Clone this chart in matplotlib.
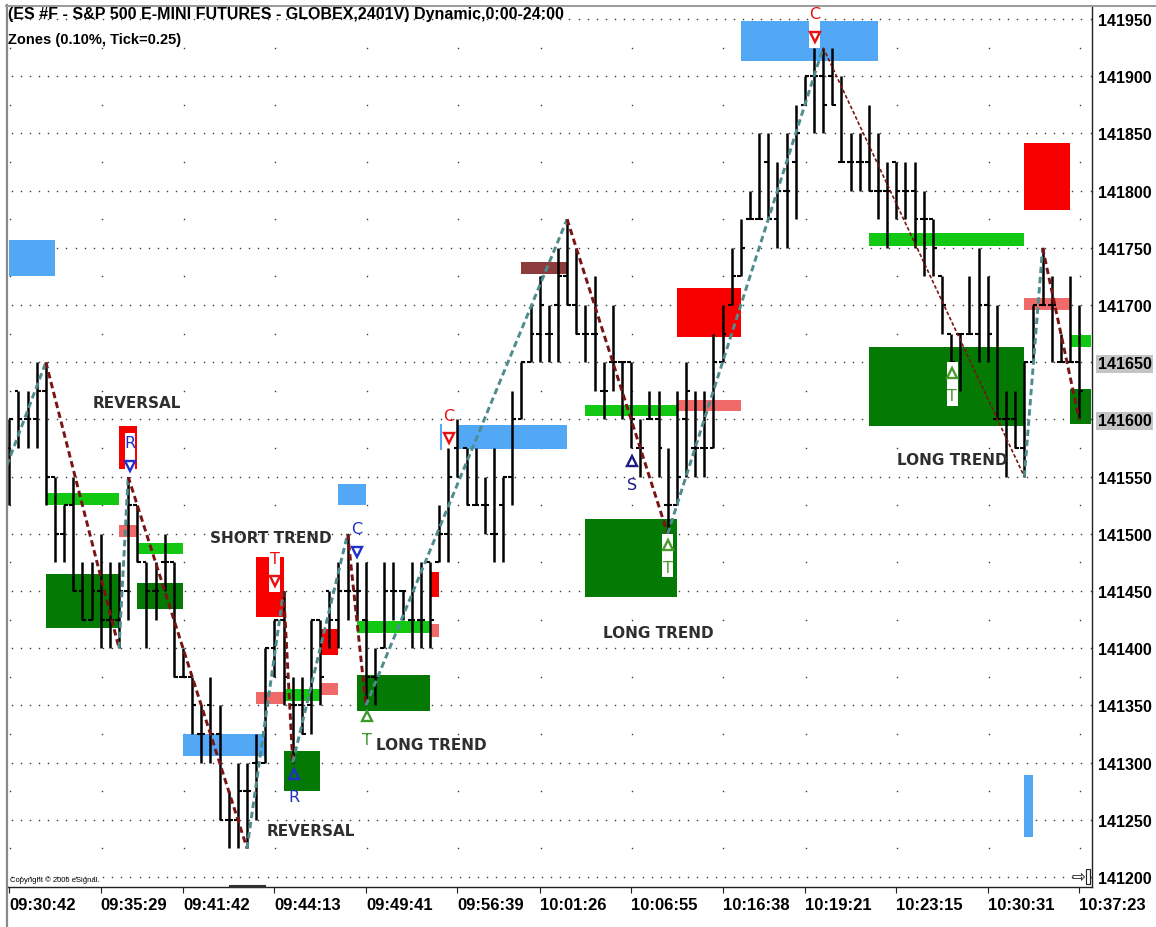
import matplotlib
matplotlib.use("Agg")
import matplotlib.pyplot as plt
from matplotlib.patches import Rectangle
from matplotlib.lines import Line2D
import numpy as np

# ---------------- data ----------------
highs = [141600, 141625, 141625, 141650, 141650, 141550, 141525, 141550, 141475, 141475,
         141500, 141475, 141475, 141550, 141525, 141475, 141475, 141500, 141475, 141400,
         141375, 141350, 141375, 141350, 141275, 141300, 141300, 141325, 141400, 141425,
         141450, 141375, 141375, 141425, 141425, 141450, 141475, 141500, 141475, 141475,
         141400, 141475, 141475, 141450, 141475, 141475, 141475, 141525, 141575, 141600,
         141575, 141575, 141550, 141575, 141550, 141625, 141650, 141700, 141725, 141700,
         141750, 141775, 141750, 141700, 141725, 141650, 141700, 141650, 141650, 141600,
         141625, 141625, 141575, 141625, 141650, 141625, 141625, 141675, 141700, 141750,
         141775, 141800, 141850, 141850, 141825, 141850, 141875, 141900, 141925, 141925,
         141925, 141900, 141850, 141850, 141875, 141850, 141825, 141825, 141825, 141825,
         141800, 141775, 141725, 141675, 141675, 141725, 141750, 141725, 141700, 141625,
         141625, 141650, 141700, 141750, 141725, 141675, 141725, 141700]
lows = [141525, 141575, 141575, 141575, 141525, 141475, 141475, 141450, 141425, 141425,
        141400, 141400, 141400, 141425, 141475, 141400, 141425, 141450, 141375, 141375,
        141325, 141300, 141300, 141250, 141225, 141225, 141225, 141250, 141300, 141375,
        141350, 141300, 141325, 141325, 141350, 141400, 141400, 141425, 141425, 141350,
        141350, 141400, 141425, 141425, 141400, 141400, 141400, 141475, 141475, 141550,
        141525, 141525, 141500, 141475, 141475, 141525, 141600, 141650, 141650, 141650,
        141650, 141700, 141675, 141650, 141625, 141600, 141625, 141600, 141575, 141550,
        141600, 141550, 141500, 141525, 141550, 141550, 141550, 141575, 141650, 141700,
        141725, 141775, 141775, 141775, 141750, 141750, 141775, 141875, 141850, 141850,
        141875, 141825, 141800, 141800, 141800, 141775, 141750, 141775, 141775, 141750,
        141725, 141725, 141675, 141650, 141625, 141675, 141650, 141650, 141600, 141550,
        141575, 141550, 141650, 141700, 141650, 141650, 141650, 141600]
opens = [141575, 141625, 141600, 141600, 141625, 141550, 141500, 141525, 141450, 141425,
         141450, 141425, 141425, 141450, 141525, 141475, 141450, 141475, 141475, 141375,
         141375, 141325, 141350, 141325, 141250, 141250, 141275, 141300, 141300, 141400,
         141425, 141350, 141350, 141350, 141425, 141450, 141425, 141450, 141450, 141425,
         141375, 141400, 141450, 141450, 141425, 141425, 141475, 141475, 141500, 141575,
         141575, 141525, 141525, 141500, 141525, 141550, 141600, 141650, 141675, 141675,
         141700, 141725, 141700, 141675, 141675, 141625, 141650, 141650, 141650, 141575,
         141600, 141600, 141525, 141525, 141600, 141575, 141575, 141575, 141650, 141700,
         141725, 141775, 141775, 141825, 141775, 141800, 141825, 141875, 141900, 141900,
         141900, 141825, 141825, 141825, 141825, 141800, 141800, 141825, 141800, 141800,
         141775, 141775, 141725, 141675, 141675, 141675, 141675, 141700, 141600, 141600,
         141600, 141575, 141650, 141700, 141700, 141650, 141650, 141650]
closes = [141600, 141600, 141600, 141625, 141550, 141500, 141525, 141450, 141425, 141450,
          141425, 141425, 141450, 141525, 141475, 141450, 141450, 141475, 141375, 141375,
          141350, 141325, 141325, 141250, 141250, 141275, 141275, 141300, 141400, 141425,
          141375, 141350, 141325, 141425, 141375, 141425, 141450, 141450, 141450, 141375,
          141375, 141450, 141450, 141450, 141425, 141425, 141425, 141500, 141550, 141550,
          141525, 141525, 141525, 141500, 141550, 141600, 141650, 141675, 141700, 141675,
          141725, 141700, 141675, 141675, 141675, 141625, 141650, 141650, 141600, 141575,
          141600, 141575, 141525, 141550, 141625, 141575, 141575, 141650, 141675, 141725,
          141750, 141775, 141775, 141775, 141800, 141800, 141850, 141900, 141900, 141875,
          141875, 141825, 141825, 141825, 141800, 141800, 141800, 141800, 141800, 141775,
          141775, 141750, 141700, 141650, 141675, 141675, 141700, 141675, 141600, 141600,
          141575, 141650, 141700, 141700, 141700, 141650, 141650, 141625]

# zones: bar-index start/end, price low/high, colour key
zone_x0 = [0.0, 80, 56, 73, 111, 94, 111, 116, 116, 94, 63, 73, 49, 12, 4, 12, 14, 4, 14,
           36, 63, 27, 46, 38, 46, 34, 34, 30, 27, 38, 19, 30, 111]
zone_x1 = [5, 95, 61, 80, 116, 111, 116, 118.3, 118.3, 111, 73, 80, 61, 14, 12, 14, 19, 12, 19,
           39, 73, 30, 47, 46, 47, 36, 36, 34, 30, 46, 28, 34, 112]
zone_lo = [141725, 141913, 141727, 141672, 141783, 141752, 141696, 141663, 141596, 141594,
           141603, 141607, 141574, 141557, 141525, 141497, 141482, 141418, 141434, 141525,
           141445, 141427, 141445, 141413, 141410, 141394, 141359, 141354, 141351, 141345,
           141306, 141275, 141235]
zone_hi = [141757, 141948, 141738, 141715, 141842, 141763, 141706, 141674, 141627, 141663,
           141613, 141617, 141595, 141594, 141536, 141508, 141492, 141465, 141457, 141544,
           141513, 141480, 141467, 141424, 141421, 141417, 141370, 141364, 141362, 141377,
           141325, 141310, 141289]
zone_kind = ["blue", "blue", "maroon", "red", "red", "lime", "salmon", "lime", "dark", "dark",
             "lime", "salmon", "blue", "red", "lime", "salmon", "lime", "dark", "dark", "blue",
             "dark", "red", "red", "lime", "salmon", "red", "salmon", "lime", "salmon", "dark",
             "blue", "dark", "blue"]

# zig-zag swing pivots
piv_x = [-0.25, 4, 12, 13, 26, 30, 31, 37, 39, 61, 72, 89, 111, 113, 117]
piv_p = [141560, 141650, 141400, 141550, 141225, 141450, 141300, 141500, 141350, 141775,
         141500, 141925, 141550, 141750, 141600]

# signal markers
sig_x = [13.2, 29.05, 38.0, 48.1, 88.1, 31.1, 39.1, 68.1, 72.0, 103.1]
sig_p = [141569, 141468, 141494, 141593, 141944, 141281, 141331, 141554, 141481, 141631]
sig_letter = ["R", "T", "C", "C", "C", "R", "T", "S", "T", "T"]
sig_dir = ["down", "down", "down", "down", "down", "up", "up", "up", "up", "up"]
sig_color = ["#1f2fd0", "#e81010", "#2030c8", "#e81010", "#e81010", "#2030c8", "#3c9a2c",
             "#1c1c80", "#4a9a2c", "#4a9a2c"]
sig_box = [True, True, False, False, True, False, False, False, True, True]

# annotation texts
note_text = ["REVERSAL", "SHORT TREND", "REVERSAL", "LONG TREND", "LONG TREND", "LONG TREND"]
note_x = [14.0, 28.6, 33.0, 46.1, 71.0, 103.1]
note_p = [141615, 141497, 141241, 141316, 141414, 141565]

price_ticks = list(range(141200, 141951, 50))
time_pos = [0, 10, 19, 29, 39, 49, 58, 68, 78, 87, 97, 107, 117]
time_labels = ["09:30:42", "09:35:29", "09:41:42", "09:44:13", "09:49:41", "09:56:39",
               "10:01:26", "10:06:55", "10:16:38", "10:19:21", "10:23:15", "10:30:31",
               "10:37:23"]

colors = {"blue": "#52a8f5", "red": "#f80000", "dark": "#047a04", "lime": "#12c812",
          "salmon": "#f06a6a", "maroon": "#8c3c3c"}

# ---------------- figure ----------------
W, H = 1156, 928
fig = plt.figure(figsize=(W / 100, H / 100), dpi=100)
fig.patch.set_facecolor("white")
ax = fig.add_axes([7 / W, 1 - 888 / H, 1085 / W, 881 / H])
ax.set_xlim(-0.25, 118.4)
ax.set_ylim(141191.3, 141961.4)
ax.set_facecolor("white")

# dotted grid
dot_x = np.arange(0, 119) + 0.25
for p in price_ticks:
    ax.plot(dot_x, [p] * len(dot_x), ls="none", marker="s", ms=1.0, mew=0,
            color="#3a3a3a", zorder=1)
for t in time_pos:
    for p in range(141225, 141951, 50):
        ax.plot([t + 0.1], [p], ls="none", marker="s", ms=1.0, mew=0,
                color="#3a3a3a", zorder=1)

# zones
for x0, x1, lo, hi, k in zip(zone_x0, zone_x1, zone_lo, zone_hi, zone_kind):
    ax.add_patch(Rectangle((x0, lo), x1 - x0, hi - lo, facecolor=colors[k],
                           edgecolor="none", zorder=2))
# thin bracket left of the C signal
ax.plot([47.2, 47.2], [141574, 141595], color="#52a8f5", lw=1.5, zorder=2)

# bars
idx = np.arange(len(highs))
ax.vlines(idx, lows, highs, colors="black", lw=1.8, zorder=3)
ax.hlines(opens, idx - 0.42, idx, colors="black", lw=1.5, zorder=3)
ax.hlines(closes, idx, idx + 0.42, colors="black", lw=1.5, zorder=3)

# zig-zag
for k in range(len(piv_x) - 1):
    down = piv_p[k + 1] < piv_p[k]
    col = "#7a1414" if down else "#4f8c8c"
    lw = 1.2 if k == 11 else 2.1
    ax.plot([piv_x[k], piv_x[k + 1]], [piv_p[k], piv_p[k + 1]], color=col, lw=lw,
            ls=(0, (2.2, 1.3)), zorder=4, dash_capstyle="butt")

# signal markers
half = 8.5
for x, p, l, d, c, b in zip(sig_x, sig_p, sig_letter, sig_dir, sig_color, sig_box):
    if b:
        ax.add_patch(Rectangle((x - 0.6, p - 19), 1.2, 38, facecolor="white",
                               edgecolor="none", zorder=5))
    if d == "down":
        ly, ty, mk = p + half + 2, p - half - 1, "v"
    else:
        ly, ty, mk = p - half - 2, p + half + 1, "^"
    ax.text(x, ly, l, ha="center", va="center", color=c, fontsize=11.5,
            family=["DejaVu Sans"], zorder=6)
    ax.plot([x], [ty], marker=mk, ms=7.5, mfc="white" if b else "none", mec=c,
            mew=1.7, ls="none", zorder=6)

for t, x, p in zip(note_text, note_x, note_p):
    ax.text(x, p, t, ha="center", va="center", fontsize=11, fontweight="bold",
            color="#2e2e2e", family=["DejaVu Sans"], zorder=6)

# axes styling
for s in ["top", "left"]:
    ax.spines[s].set_visible(False)
for s in ["right", "bottom"]:
    ax.spines[s].set_color("#202020")
    ax.spines[s].set_linewidth(1.0)

ax.yaxis.tick_right()
ax.set_yticks(price_ticks)
ax.set_yticklabels([str(p) for p in price_ticks], family="Liberation Sans",
                   fontweight="bold", fontsize=11.5)
ax.tick_params(axis="y", length=0, pad=4)
for lbl in ax.get_yticklabels():
    if lbl.get_text() in ("141650", "141600"):
        lbl.set_bbox(dict(facecolor="#c4c4c4", edgecolor="none", pad=1))

ax.set_xticks(time_pos)
ax.set_xticklabels(time_labels, family="Liberation Sans", fontweight="bold",
                   fontsize=12, ha="left")
ax.tick_params(axis="x", length=4, direction="out", pad=3, color="#202020")

# header texts
fig.text(8 / W, 1 - 14 / H, "(ES #F - S&P 500 E-MINI FUTURES - GLOBEX,2401V) Dynamic,0:00-24:00",
         ha="left", va="center", fontsize=11.5, fontweight="bold", family="Liberation Sans")
fig.text(8 / W, 1 - 40 / H, "Zones (0.10%, Tick=0.25)", ha="left", va="center",
         fontsize=10.5, fontweight="bold", family="Liberation Sans")
fig.text(10 / W, 1 - 880 / H, "Copyright \u00a9 2006 eSignal.", ha="left", va="center",
         fontsize=5.5, family="Liberation Sans")

# window chrome
fig.add_artist(Line2D([6.5 / W, 6.5 / W], [0, 1 - 6 / H], color="#8a8a8a", lw=1.6,
                      transform=fig.transFigure))
fig.add_artist(Line2D([6 / W, 1], [1 - 6.5 / H, 1 - 6.5 / H], color="#9a9a9a", lw=1.4,
                      transform=fig.transFigure))
fig.add_artist(Line2D([230 / W, 264 / W], [1 - 886.5 / H, 1 - 886.5 / H], color="#303030",
                      lw=2.2, transform=fig.transFigure))
fig.text(1078 / W, 1 - 877 / H, "\u21E8", ha="center", va="center", fontsize=12,
         family="DejaVu Sans", color="#202020")
fig.add_artist(Rectangle((1086 / W, 1 - 885 / H), 4 / W, 15 / H, facecolor="white",
                         edgecolor="#202020", lw=0.8, transform=fig.transFigure))

fig.savefig("out.png", dpi=100, facecolor="white")
